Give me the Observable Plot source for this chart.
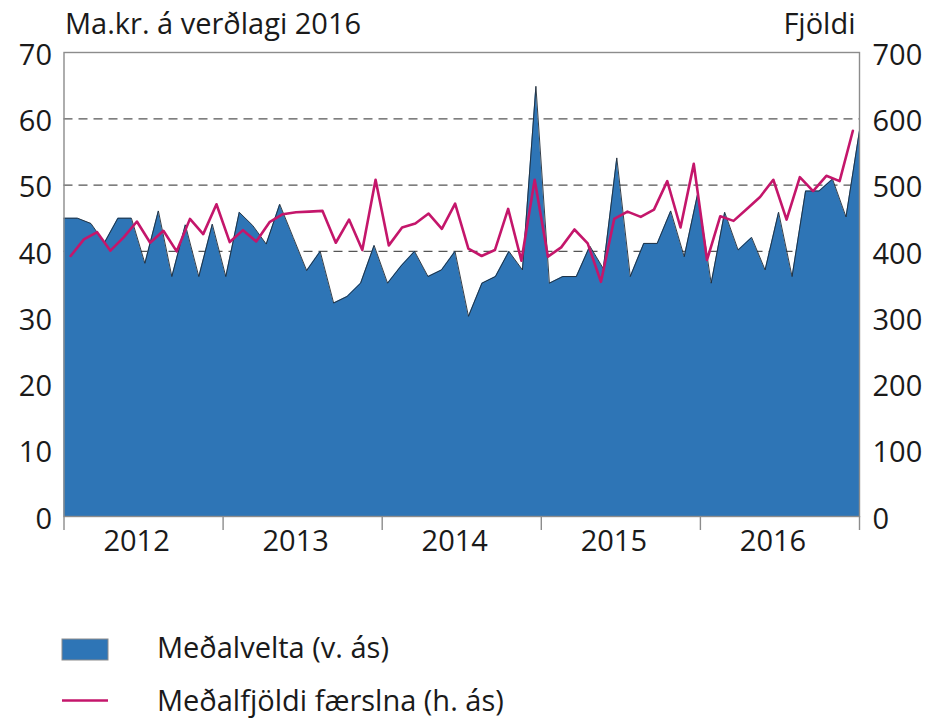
<!DOCTYPE html>
<html>
<head>
<meta charset="utf-8">
<script src="https://cdn.jsdelivr.net/npm/d3@7"></script>
<script src="https://cdn.jsdelivr.net/npm/@observablehq/plot@0.6"></script>
<style>
  html, body { margin: 0; padding: 0; background: #fff; }
  #wrap { position: relative; width: 931px; height: 720px; font-family: "Open Sans", sans-serif; color: #1a1a1a; }
  #legend { position: absolute; left: 0; top: 580px; }
</style>
</head>
<body>
<div id="wrap"><div id="chart"></div><div id="legend"></div></div>
<script>
// Category labels
const years = ["2012", "2013", "2014", "2015", "2016"];
// Meðalvelta, ma.kr. (left axis), monthly 2012–2016
const velta = [
  45.0, 45.0, 44.2, 41.3, 45.0, 45.0, 38.2, 46.1, 36.2, 44.0, 36.2, 44.1,
  36.2, 45.9, 43.9, 41.1, 47.1, 42.1, 37.1, 40.0, 32.2, 33.2, 35.2, 40.9,
  35.2, 37.8, 40.0, 36.2, 37.2, 40.0, 30.2, 35.2, 36.2, 40.0, 37.2, 64.9,
  35.2, 36.2, 36.2, 40.8, 37.4, 54.1, 36.2, 41.2, 41.2, 46.1, 39.2, 48.7,
  35.2, 45.9, 40.2, 42.1, 37.2, 45.9, 36.2, 49.1, 49.1, 50.9, 45.2, 58.2
];
// Meðalfjöldi færslna (right axis), monthly 2012–2016
const fjoldi = [
  393, 418, 429, 401, 421, 445, 413, 431, 400, 449, 426, 471,
  414, 432, 415, 444, 456, 459, 460, 461, 413, 448, 402, 508,
  409, 436, 442, 457, 434, 472, 404, 393, 402, 464, 386, 508,
  392, 406, 433, 412, 354, 449, 460, 452, 463, 506, 436, 532,
  387, 453, 446, 464, 482, 508, 448, 512, 491, 514, 506, 582
];
// Tick labels
const leftTicks = [0, 10, 20, 30, 40, 50, 60, 70];
const rightTicks = [0, 100, 200, 300, 400, 500, 600, 700];
const gridValues = [40, 50, 60];
const yTitleLeft = "Ma.kr. á verðlagi 2016";
const yTitleRight = "Fjöldi";
const seriesNames = ["Meðalvelta (v. ás)", "Meðalfjöldi færslna (h. ás)"];

const n = velta.length;
const ratio = rightTicks[rightTicks.length - 1] / leftTicks[leftTicks.length - 1];
// area on "on tick marks" month axis (edge to edge), line on "between tick marks" axis
const areaData = velta.map((v, i) => ({x: i * n / (n - 1), v}));
const lineData = fjoldi.map((f, i) => ({x: i + 0.5, f: f / ratio}));
const yearBounds = d3.range(years.length + 1).map(k => k * 12);
const yearCenters = years.map((y, k) => k * 12 + 6);

const BLUE = "#2E75B6";
const MAGENTA = "#C4166B";

const chart = Plot.plot({
  width: 931,
  height: 580,
  marginLeft: 63.5,
  marginRight: 72,
  marginTop: 52,
  marginBottom: 64,
  style: {fontFamily: "'Open Sans', sans-serif", fontSize: "29px", color: "#1a1a1a", background: "#fff"},
  x: {domain: [0, n], label: null},
  y: {domain: [leftTicks[0], leftTicks[leftTicks.length - 1]], label: null},
  marks: [
    Plot.ruleY(gridValues, {stroke: "#555", strokeWidth: 1.3, strokeDasharray: "9,6"}),
    Plot.areaY(areaData, {x: "x", y: "v", fill: BLUE}),
    Plot.lineY(areaData, {x: "x", y: "v", stroke: "#1f2a36", strokeWidth: 0.9}),
    Plot.lineY(lineData, {x: "x", y: "f", stroke: MAGENTA, strokeWidth: 2.6}),
    Plot.frame({stroke: "#8c8c8c", strokeWidth: 1.4}),
    Plot.axisY({anchor: "left", ticks: leftTicks, tickSize: 0, tickPadding: 12, dy: 3, fontSize: 29, label: null}),
    Plot.axisY({anchor: "right", ticks: leftTicks, tickSize: 0, tickPadding: 13, dy: 3, fontSize: 29, label: null,
      tickFormat: (d, i) => rightTicks[i]}),
    Plot.axisX({ticks: yearBounds, tickSize: 14, tickFormat: () => "", stroke: "#8c8c8c", strokeWidth: 1.4, label: null}),
    Plot.axisX({ticks: yearCenters, tickSize: 0, tickPadding: 14, dx: -7, fontSize: 29, label: null,
      tickFormat: (d, i) => years[i]}),
    Plot.text([yTitleLeft], {frameAnchor: "top-left", dy: -19, dx: 1, lineAnchor: "bottom", textAnchor: "start", fontSize: 29}),
    Plot.text([yTitleRight], {frameAnchor: "top-right", dy: -19, dx: -4, lineAnchor: "bottom", textAnchor: "end", fontSize: 29})
  ]
});
document.getElementById("chart").appendChild(chart);

// Legend
const lg = d3.select("#legend").append("svg").attr("width", 931).attr("height", 140)
  .style("font-family", "'Open Sans', sans-serif");
lg.append("rect").attr("x", 62).attr("y", 59).attr("width", 46).attr("height", 21)
  .attr("fill", BLUE).attr("stroke", "#8c8c8c").attr("stroke-width", 1);
lg.append("text").attr("x", 157).attr("y", 78).attr("font-size", 29).attr("fill", "#1a1a1a").text(seriesNames[0]);
lg.append("line").attr("x1", 62).attr("x2", 108).attr("y1", 120.5).attr("y2", 120.5)
  .attr("stroke", MAGENTA).attr("stroke-width", 2.5);
lg.append("text").attr("x", 157).attr("y", 131).attr("font-size", 29).attr("fill", "#1a1a1a").text(seriesNames[1]);
</script>
</body>
</html>
